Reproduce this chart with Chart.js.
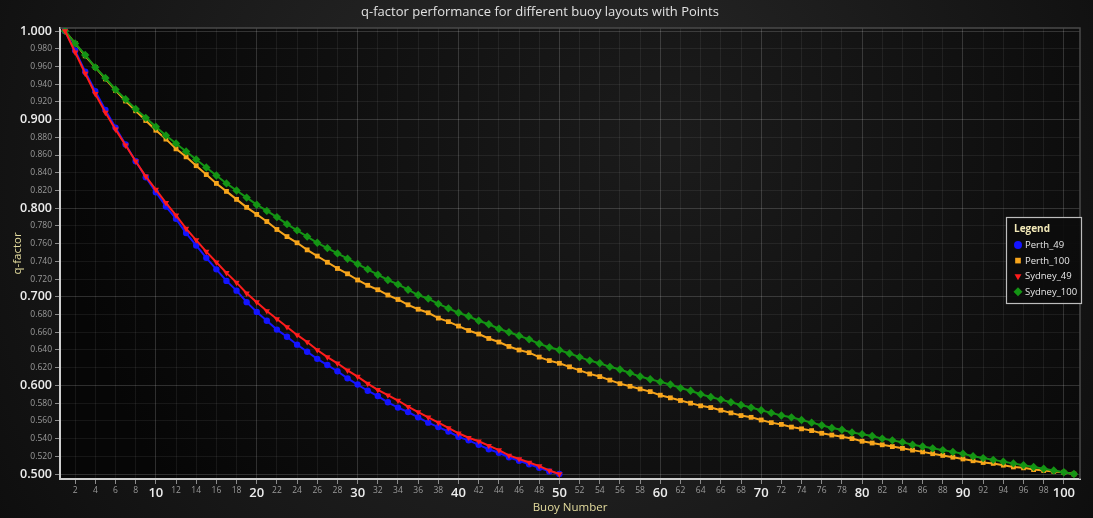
<!DOCTYPE html>
<html>
<head>
<meta charset="utf-8">
<title>q-factor performance</title>
<script src="https://cdn.jsdelivr.net/npm/chart.js@4.4.1/dist/chart.umd.min.js"></script>
<style>
  html, body { margin: 0; padding: 0; background: #111; }
  #wrap { width: 1093px; height: 518px; }
</style>
</head>
<body>
<div id="wrap"><canvas id="chart" width="1093" height="518"></canvas></div>
<script>
"use strict";

// values, buoy 1..50 and 1..101
const perth49 = [
  1.000, 0.978, 0.954, 0.932, 0.911, 0.891, 0.872, 0.853, 0.835,
  0.818, 0.802, 0.788, 0.772, 0.758, 0.744, 0.731, 0.718, 0.707, 0.694,
  0.683, 0.673, 0.663, 0.655, 0.646, 0.638, 0.630, 0.623, 0.616, 0.608,
  0.601, 0.594, 0.588, 0.581, 0.575, 0.570, 0.564, 0.558, 0.553, 0.548,
  0.542, 0.538, 0.533, 0.528, 0.524, 0.519, 0.515, 0.511, 0.507, 0.503,
  0.500
];
const sydney49 = [
  1.000, 0.976, 0.952, 0.929, 0.908, 0.889, 0.871, 0.853, 0.836,
  0.821, 0.806, 0.792, 0.777, 0.764, 0.751, 0.739, 0.727, 0.716, 0.704,
  0.694, 0.684, 0.675, 0.666, 0.657, 0.649, 0.640, 0.632, 0.625, 0.617,
  0.610, 0.602, 0.595, 0.589, 0.583, 0.576, 0.570, 0.564, 0.558, 0.552,
  0.546, 0.541, 0.537, 0.532, 0.527, 0.521, 0.517, 0.513, 0.509, 0.504,
  0.500
];
const perth100 = [
  1.000, 0.986, 0.972, 0.959, 0.946, 0.933, 0.921, 0.910, 0.899,
  0.888, 0.878, 0.867, 0.858, 0.848, 0.838, 0.828, 0.819, 0.810, 0.801,
  0.793, 0.785, 0.776, 0.768, 0.761, 0.753, 0.746, 0.739, 0.732, 0.726,
  0.719, 0.713, 0.708, 0.702, 0.697, 0.691, 0.686, 0.682, 0.676, 0.672,
  0.667, 0.662, 0.658, 0.653, 0.649, 0.644, 0.640, 0.637, 0.632, 0.628,
  0.625, 0.621, 0.617, 0.613, 0.610, 0.606, 0.602, 0.599, 0.596, 0.593,
  0.589, 0.586, 0.583, 0.580, 0.577, 0.575, 0.572, 0.569, 0.566, 0.564,
  0.561, 0.558, 0.556, 0.553, 0.551, 0.549, 0.546, 0.544, 0.542, 0.540,
  0.537, 0.535, 0.533, 0.531, 0.529, 0.527, 0.525, 0.523, 0.521, 0.519,
  0.517, 0.515, 0.513, 0.512, 0.510, 0.508, 0.507, 0.505, 0.504, 0.503,
  0.502, 0.500
];
const sydney100 = [
  1.000, 0.986, 0.973, 0.959, 0.947, 0.934, 0.923, 0.912, 0.902,
  0.892, 0.882, 0.873, 0.864, 0.855, 0.846, 0.837, 0.828, 0.820, 0.812,
  0.804, 0.797, 0.790, 0.782, 0.775, 0.768, 0.761, 0.755, 0.749, 0.743,
  0.737, 0.731, 0.725, 0.719, 0.714, 0.708, 0.702, 0.698, 0.692, 0.687,
  0.682, 0.678, 0.673, 0.669, 0.664, 0.660, 0.656, 0.652, 0.647, 0.643,
  0.640, 0.636, 0.632, 0.628, 0.625, 0.621, 0.618, 0.614, 0.610, 0.607,
  0.604, 0.601, 0.597, 0.594, 0.590, 0.587, 0.584, 0.581, 0.578, 0.575,
  0.572, 0.569, 0.566, 0.564, 0.561, 0.558, 0.555, 0.552, 0.550, 0.547,
  0.545, 0.543, 0.540, 0.538, 0.536, 0.533, 0.531, 0.529, 0.527, 0.525,
  0.523, 0.520, 0.518, 0.516, 0.514, 0.512, 0.510, 0.508, 0.506, 0.504,
  0.502, 0.500
];

const seriesNames = ['Perth_49', 'Perth_100', 'Sydney_49', 'Sydney_100'];

// tick positions: every 2nd buoy, every 0.02 of q
const xTicks = [];
for (let v = 2; v <= 100; v += 2) xTicks.push(v);
const yTicks = [];
for (let i = 500; i <= 1000; i += 20) yTicks.push(i / 1000);

const FONT = '"Open Sans", "Noto Sans", sans-serif';

function toPoints(values) {
  return values.map((v, i) => ({ x: i + 1, y: v }));
}

function isMajorX(c) { return !!c.tick && c.tick.value % 10 === 0; }
function isMajorY(c) { return !!c.tick && Math.round(c.tick.value * 1000) % 100 === 0; }

// page + plot backgrounds, thin frame on top/right
const backdrop = {
  id: 'backdrop',
  beforeDraw(chart) {
    const { ctx, width, height, chartArea: a } = chart;
    ctx.save();
    let g = ctx.createRadialGradient(width * 0.5, height * 0.35, 20, width * 0.5, height * 0.35, width * 0.65);
    g.addColorStop(0, '#2b2b2b');
    g.addColorStop(1, '#0b0b0b');
    ctx.fillStyle = g;
    ctx.fillRect(0, 0, width, height);

    g = ctx.createRadialGradient(a.left + a.width * 0.6, a.top + a.height * 0.25, 10,
                                 a.left + a.width * 0.6, a.top + a.height * 0.25, a.width * 0.6);
    g.addColorStop(0, '#1b1b1b');
    g.addColorStop(1, '#060606');
    ctx.fillStyle = g;
    ctx.fillRect(a.left, a.top, a.width, a.height);
    ctx.restore();
  },
  beforeDatasetsDraw(chart) {
    const { ctx, chartArea: a } = chart;
    ctx.save();
    ctx.strokeStyle = '#4a4a4a';
    ctx.lineWidth = 1.5;
    ctx.beginPath();
    ctx.moveTo(a.left, a.top);
    ctx.lineTo(a.right, a.top);
    ctx.lineTo(a.right, a.bottom);
    ctx.stroke();
    ctx.restore();
  }
};

// boxed legend floating inside the plot, right side
const legendBox = {
  id: 'legendBox',
  afterDatasetsDraw(chart) {
    const { ctx, chartArea: a } = chart;
    const x = a.right - 74, y = a.top + 189, w = 75, h = 86;
    ctx.save();
    ctx.fillStyle = 'rgba(12,12,12,0.92)';
    ctx.fillRect(x, y, w, h);
    ctx.strokeStyle = '#bdbdbd';
    ctx.lineWidth = 1.2;
    ctx.strokeRect(x + 0.5, y + 0.5, w, h);

    ctx.textBaseline = 'middle';
    ctx.textAlign = 'left';
    ctx.fillStyle = '#f2e9b8';
    ctx.font = 'bold 10px ' + FONT;
    ctx.fillText('Legend', x + 8, y + 12);

    ctx.font = '9.5px ' + FONT;
    chart.data.datasets.forEach((ds, i) => {
      const cy = y + 28 + i * 15.6;
      ctx.fillStyle = ds.pointBackgroundColor;
      Chart.helpers.drawPoint(ctx, {
        pointStyle: ds.pointStyle,
        rotation: ds.pointRotation || 0,
        radius: ds.pointStyle === 'rectRot' ? 4.5 : 4,
        borderWidth: 0
      }, x + 12, cy);
      ctx.fillStyle = '#e6e6e6';
      ctx.fillText(ds.label, x + 19, cy + 0.5);
    });
    ctx.restore();
  }
};

const datasets = [
  {
    label: seriesNames[0], data: toPoints(perth49), order: 2,
    borderColor: '#1414ff', pointBackgroundColor: '#1414ff', pointBorderColor: '#1414ff',
    pointStyle: 'circle', pointRadius: 3.2
  },
  {
    label: seriesNames[1], data: toPoints(perth100), order: 3,
    borderColor: '#f7a51c', pointBackgroundColor: '#f7a51c', pointBorderColor: '#f7a51c',
    pointStyle: 'rect', pointRadius: 3.4
  },
  {
    label: seriesNames[2], data: toPoints(sydney49), order: 0,
    borderColor: '#ff1c1c', pointBackgroundColor: '#ff1c1c', pointBorderColor: '#ff1c1c',
    pointStyle: 'triangle', pointRotation: 180, pointRadius: 3.6
  },
  {
    label: seriesNames[3], data: toPoints(sydney100), order: 1,
    borderColor: '#149414', pointBackgroundColor: '#149414', pointBorderColor: '#149414',
    pointStyle: 'rectRot', pointRadius: 4.2
  }
];
datasets.forEach(ds => {
  ds.borderWidth = 2;
  ds.pointBorderWidth = 0;
  ds.fill = false;
  ds.tension = 0;
});

new Chart(document.getElementById('chart'), {
  type: 'line',
  data: { datasets },
  plugins: [backdrop, legendBox],
  options: {
    responsive: false,
    devicePixelRatio: 1,
    animation: false,
    events: [],
    layout: { padding: { left: 0, right: 13, top: 0, bottom: 0 } },
    plugins: {
      legend: { display: false },
      tooltip: { enabled: false },
      title: {
        display: true,
        text: 'q-factor performance for different buoy layouts with Points',
        color: '#e2e2e2',
        font: { family: FONT, size: 13, weight: 'normal', lineHeight: 1.2 },
        padding: { top: 4, bottom: 8.4 }
      }
    },
    scales: {
      x: {
        type: 'linear',
        min: 0.5,
        max: 101.6,
        afterBuildTicks: scale => { scale.ticks = xTicks.map(v => ({ value: v })); },
        afterFit: scale => { scale.height = 39; },
        ticks: {
          autoSkip: false,
          maxRotation: 0,
          padding: 1,
          callback: v => String(v),
          color: c => isMajorX(c) ? '#ececec' : '#9a9a9a',
          font: c => isMajorX(c)
            ? { family: FONT, size: 13, weight: '600' }
            : { family: FONT, size: 8.5 }
        },
        grid: {
          color: c => isMajorX(c) ? 'rgba(255,255,255,0.16)' : 'rgba(255,255,255,0.065)',
          tickColor: '#8c8c8c',
          tickLength: 5,
          lineWidth: 1
        },
        border: { display: true, color: '#cfcfcf', width: 2 },
        title: {
          display: true,
          text: 'Buoy Number',
          color: '#e4dc9e',
          font: { family: FONT, size: 11.5 },
          padding: { top: 0, bottom: 3 }
        }
      },
      y: {
        type: 'linear',
        min: 0.4944,
        max: 1.0034,
        afterBuildTicks: scale => { scale.ticks = yTicks.map(v => ({ value: v })); },
        afterFit: scale => { scale.width = 60; },
        ticks: {
          autoSkip: false,
          padding: 3,
          callback: v => v.toFixed(3),
          color: c => isMajorY(c) ? '#ececec' : '#9a9a9a',
          font: c => isMajorY(c)
            ? { family: FONT, size: 12.5, weight: '600' }
            : { family: FONT, size: 8.5 }
        },
        grid: {
          color: c => isMajorY(c) ? 'rgba(255,255,255,0.16)' : 'rgba(255,255,255,0.065)',
          tickColor: '#8c8c8c',
          tickLength: 5,
          lineWidth: 1
        },
        border: { display: true, color: '#cfcfcf', width: 2 },
        title: {
          display: true,
          text: 'q-factor',
          color: '#e4dc9e',
          font: { family: FONT, size: 11.5 },
          padding: { top: 11, bottom: 0 }
        }
      }
    }
  }
});
</script>
</body>
</html>
